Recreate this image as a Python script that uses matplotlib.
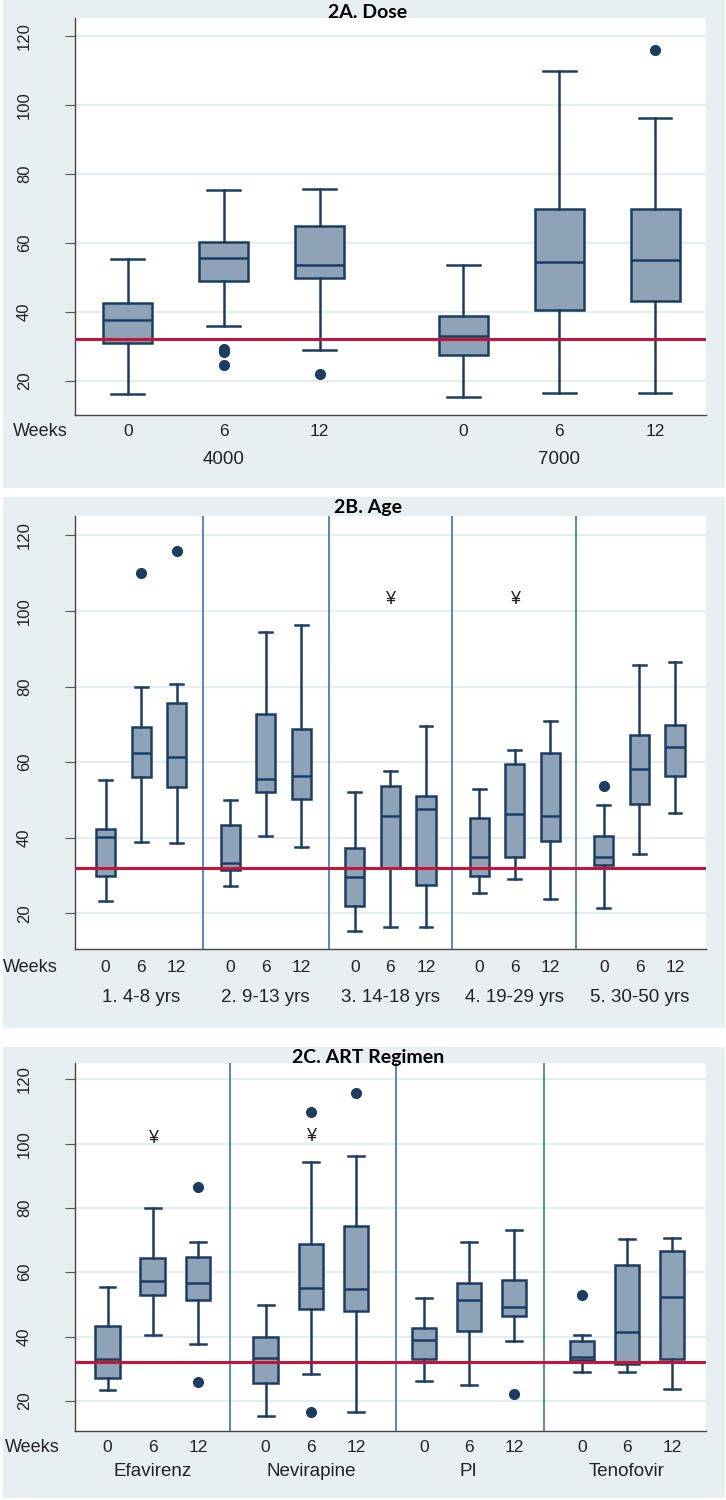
"""
Figure 2: boxplots per week, split by dose, age group and ART regimen
"""

import matplotlib.pyplot as plt
from matplotlib.patches import Rectangle

plt.rcParams['font.family'] = ['Liberation Sans', 'DejaVu Sans']

# ---- data: panel 2A (dose) ----
dose_groups = ['4000', '7000']
dose_whislo = [16.0, 35.7, 29.0, 15.3, 16.3, 16.3]
dose_q1 = [30.8, 49.0, 49.8, 27.5, 40.4, 43.1]
dose_med = [37.5, 55.6, 53.4, 33.0, 54.3, 54.9]
dose_q3 = [42.6, 60.2, 64.9, 38.7, 69.7, 69.7]
dose_whishi = [55.4, 75.2, 75.7, 53.5, 109.9, 96.2]
dose_fliers = [[], [29.1, 28.2, 24.6], [21.8], [], [], [115.9]]

# ---- data: panel 2B (age) ----
age_groups = ['1. 4-8 yrs', '2. 9-13 yrs', '3. 14-18 yrs', '4. 19-29 yrs', '5. 30-50 yrs']
age_whislo = [23.3, 38.8, 38.5, 27.2, 40.6, 37.7, 15.3, 16.3, 16.3,
              25.3, 29.1, 23.8, 21.5, 35.7, 46.6]
age_q1 = [29.9, 56.0, 53.4, 31.6, 52.0, 50.3, 21.9, 32.1, 27.5,
          29.9, 34.8, 39.1, 32.8, 49.0, 56.4]
age_med = [40.2, 62.3, 61.3, 33.4, 55.6, 56.3, 29.7, 45.7, 47.5,
           35.0, 46.2, 45.7, 34.8, 58.2, 63.9]
age_q3 = [42.4, 69.3, 75.7, 43.5, 72.7, 68.9, 37.2, 53.7, 51.1,
          45.2, 59.4, 62.5, 40.6, 67.1, 69.9]
age_whishi = [55.4, 80.0, 80.7, 49.9, 94.4, 96.3, 52.0, 57.8, 69.5,
              52.8, 63.1, 70.8, 48.6, 85.6, 86.6]
age_fliers = [[], [109.9], [115.8], [], [], [], [], [], [],
              [], [], [], [53.7], [], []]
age_marks = [7, 10]          # boxes flagged with the yen sign
age_mark_y = [103.1, 103.1]
age_seps = [3.74, 7.29, 10.73, 14.23]

# ---- data: panel 2C (ART regimen) ----
art_groups = ['Efavirenz', 'Nevirapine', 'PI', 'Tenofovir']
art_whislo = [23.3, 40.6, 37.6, 15.4, 28.3, 16.4, 26.3, 24.9, 38.6, 29.0, 29.0, 23.8]
art_q1 = [27.2, 52.9, 51.3, 25.4, 48.6, 47.8, 33.1, 41.7, 46.4, 32.7, 31.6, 32.9]
art_med = [33.1, 57.2, 56.5, 33.2, 55.2, 54.9, 38.9, 51.4, 49.3, 33.7, 41.3, 52.3]
art_q3 = [43.3, 64.3, 64.8, 39.7, 68.9, 74.4, 42.5, 56.6, 57.6, 38.7, 62.2, 66.6]
art_whishi = [55.5, 80.0, 69.3, 49.8, 94.2, 96.3, 51.9, 69.4, 73.1, 40.5, 70.2, 70.7]
art_fliers = [[], [], [86.5, 25.8], [], [109.9, 16.4], [115.9],
              [], [], [22.1], [52.8], [], []]
art_marks = [1, 4]
art_mark_y = [101.6, 102.2]
art_seps = [3.71, 7.39, 10.66]

weeks = ['0', '6', '12']
cutoff = 32

# ---- style ----
BG = '#e8eff2'
GRID = '#e6edf1'
FILL = '#8fa3b8'
EDGE = '#1c3d61'
RED = '#c3143a'
SEP = '#4a7ebb'


def draw_panel(rect, title, title_y, groups, whislo, q1, med, q3, whishi, fliers,
               xlim, ylim, width, cap, sep=(), marks=(), mark_y=(),
               tick_off=17, group_off=44, weeks_x=13):
    ax = fig.add_axes(rect)
    n_w = len(weeks)
    pos = [g * (n_w + 0.5) + w + 1 for g in range(len(groups)) for w in range(n_w)]
    stats = [dict(whislo=a, q1=b, med=c, q3=d, whishi=e, fliers=f)
             for a, b, c, d, e, f in zip(whislo, q1, med, q3, whishi, fliers)]
    ax.bxp(stats, positions=pos, widths=width, capwidths=cap, patch_artist=True,
           boxprops=dict(facecolor=FILL, edgecolor=EDGE, linewidth=1.8),
           medianprops=dict(color=EDGE, linewidth=1.8),
           whiskerprops=dict(color=EDGE, linewidth=1.8),
           capprops=dict(color=EDGE, linewidth=1.8),
           flierprops=dict(marker='o', markerfacecolor=EDGE, markeredgecolor=EDGE,
                           markersize=7))
    ax.axhline(cutoff, color=RED, lw=2.2, zorder=5)
    for s in sep:
        ax.axvline(s, color=SEP, lw=1.3, zorder=4)
    for i, y in zip(marks, mark_y):
        ax.text(pos[i], y, '¥', ha='center', va='center', fontsize=13, color='#222222')

    ax.set_xlim(*xlim)
    ax.set_ylim(*ylim)
    ax.set_yticks([20, 40, 60, 80, 100, 120])
    ax.tick_params(axis='y', length=7, color='#555555', pad=24, labelsize=12,
                   labelrotation=90, labelcolor='#222222')
    for lab in ax.get_yticklabels():
        lab.set_va('center')
    ax.set_xticks(pos)
    ax.set_xticklabels([])
    ax.tick_params(axis='x', length=0)
    ax.grid(axis='y', color=GRID, lw=1.6)
    ax.set_axisbelow(True)
    for side in ['top', 'right']:
        ax.spines[side].set_visible(False)
    for side in ['left', 'bottom']:
        ax.spines[side].set_color('#444444')
        ax.spines[side].set_linewidth(1.0)

    for i, p in enumerate(pos):
        ax.annotate(weeks[i % n_w], (p, 0), xycoords=('data', 'axes fraction'),
                    xytext=(0, -tick_off * 0.72), textcoords='offset points',
                    ha='center', va='center', fontsize=12.5, color='#222222')
    for g, name in enumerate(groups):
        ax.annotate(name, (pos[g * n_w + 1], 0), xycoords=('data', 'axes fraction'),
                    xytext=(0, -group_off * 0.72), textcoords='offset points',
                    ha='center', va='center', fontsize=13.5, color='#222222')
    ax.annotate('Weeks', (weeks_x / 726, 0), xycoords=('figure fraction', 'axes fraction'),
                xytext=(0, -tick_off * 0.72), textcoords='offset points',
                ha='left', va='center', fontsize=13, color='#222222')
    fig.text(368 / 726, 1 - title_y / 1500, title, ha='center', va='center',
             fontsize=14, fontweight='bold', family=['Lato', 'DejaVu Sans'])
    return ax


fig = plt.figure(figsize=(7.26, 15), dpi=100)

# grey panel backgrounds
for y0, y1 in [(0, 488), (497, 1028), (1047, 1498)]:
    fig.patches.append(Rectangle((3 / 726, 1 - y1 / 1500), 722 / 726, (y1 - y0) / 1500,
                                 transform=fig.transFigure, facecolor=BG,
                                 edgecolor='none', zorder=-10))

L, W = 75 / 726, 631 / 726

draw_panel([L, 1 - 415 / 1500, W, 397 / 1500], '2A. Dose', 12, dose_groups,
           dose_whislo, dose_q1, dose_med, dose_q3, dose_whishi, dose_fliers,
           xlim=(0.45, 7.03), ylim=(10, 125.2), width=0.51, cap=0.34,
           tick_off=17, group_off=44, weeks_x=13)

draw_panel([L, 1 - 949 / 1500, W, 433 / 1500], '2B. Age', 507, age_groups,
           age_whislo, age_q1, age_med, age_q3, age_whishi, age_fliers,
           xlim=(0.14, 17.87), ylim=(10.6, 125.1), width=0.54, cap=0.36,
           sep=age_seps, marks=age_marks, mark_y=age_mark_y,
           tick_off=18, group_off=48, weeks_x=3)

draw_panel([L, 1 - 1431 / 1500, W, 368 / 1500], '2C. ART Regimen', 1057, art_groups,
           art_whislo, art_q1, art_med, art_q3, art_whishi, art_fliers,
           xlim=(0.28, 14.25), ylim=(10.6, 125.1), width=0.54, cap=0.35,
           sep=art_seps, marks=art_marks, mark_y=art_mark_y,
           tick_off=16, group_off=41, weeks_x=5)

fig.savefig('out.png', dpi=100)
